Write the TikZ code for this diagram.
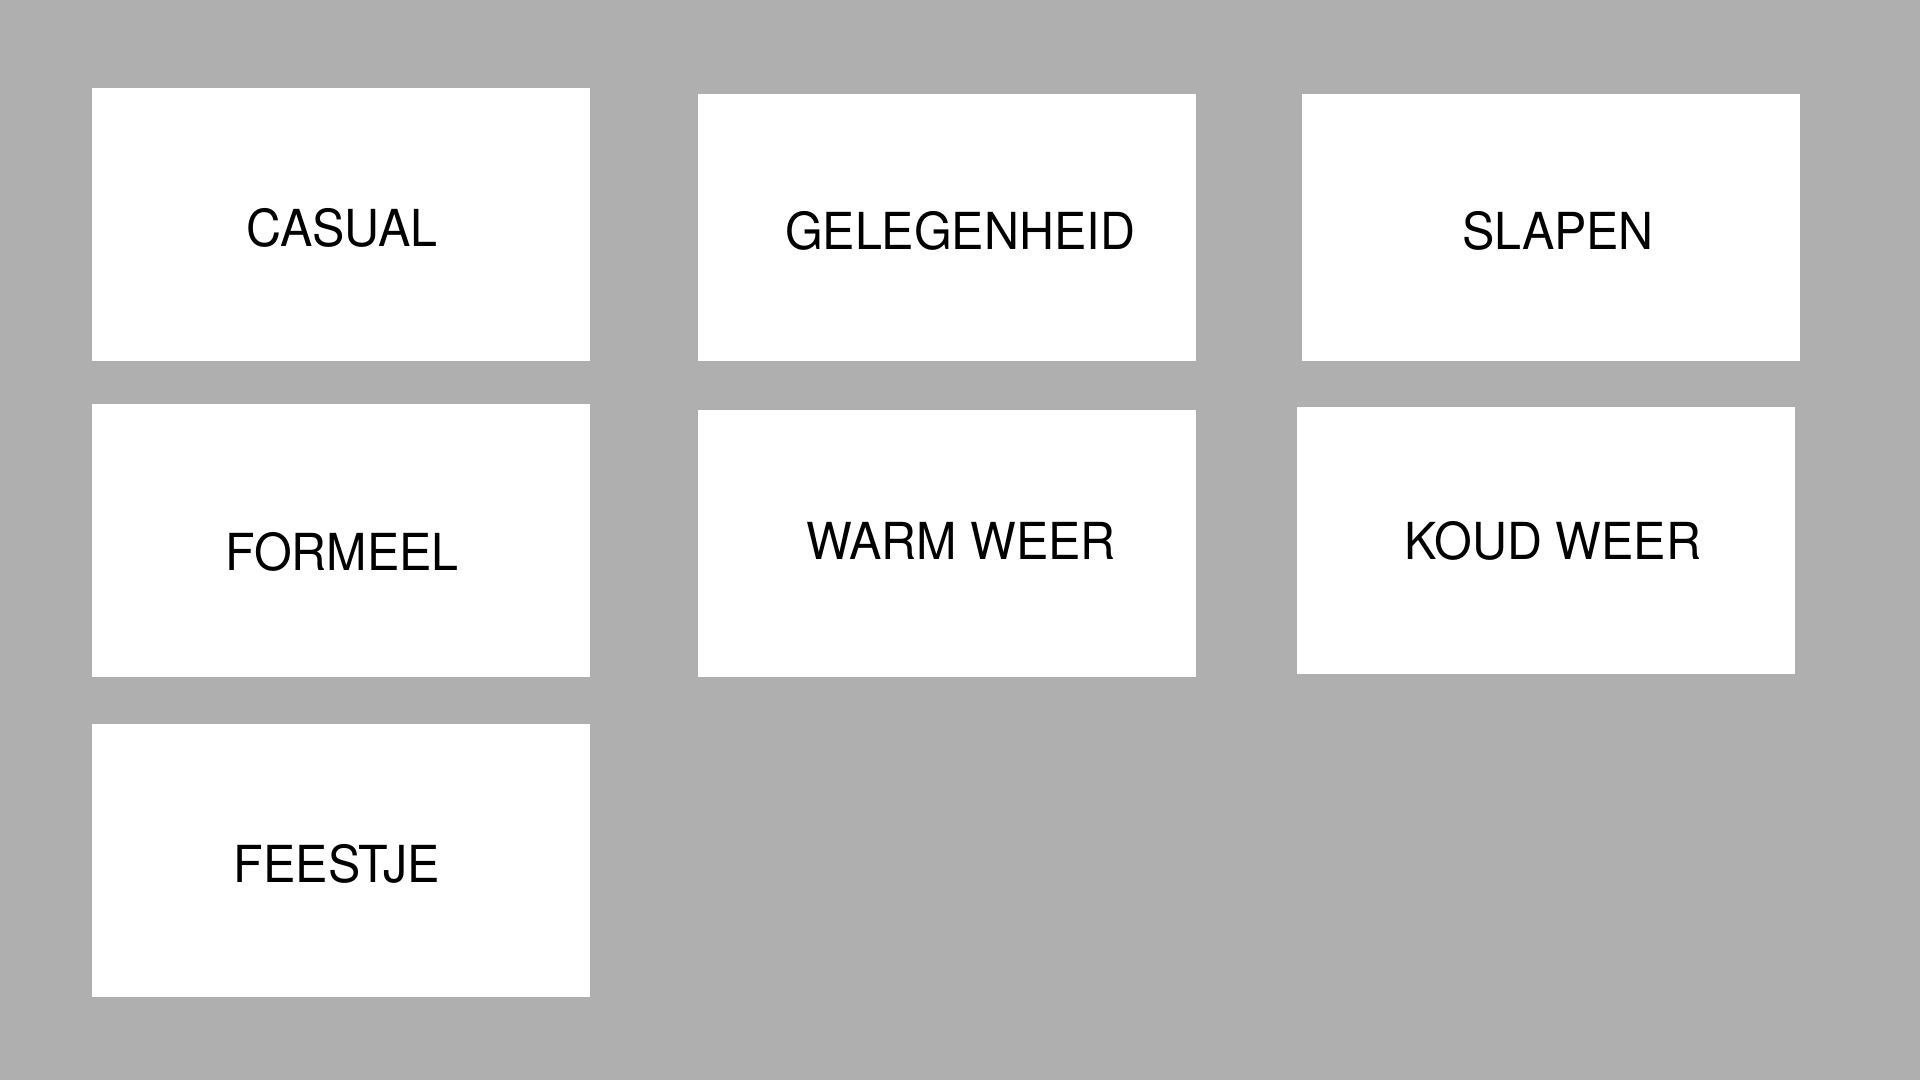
\documentclass[tikz,border=0pt]{standalone}
\usepackage{fontspec}
\setmainfont{TeX Gyre Heros}[FakeStretch=0.95]
\usepackage{tikz}

\definecolor{slidegray}{RGB}{175,175,175}
\tikzset{
  card/.style={fill=white, inner sep=0pt, minimum width=498pt},
  cardtext/.style={anchor=base, inner sep=0pt, font=\fontsize{51}{60}\selectfont}
}

\begin{document}
\begin{tikzpicture}[x=1pt,y=-1pt]
\fill[slidegray] (0,0) rectangle (1920,1080) ; % background
\node[card, minimum height=273pt] (casual) at (341,224.5) {} ; % card.0
\node[card, minimum height=267pt] (gelegenheid) at (947,227.5) {} ; % card.1
\node[card, minimum height=267pt] (slapen) at (1551,227.5) {} ; % card.2
\node[card, minimum height=273pt] (formeel) at (341,540.5) {} ; % card.3
\node[card, minimum height=267pt] (warm) at (947,543.5) {} ; % card.4
\node[card, minimum height=267pt] (koud) at (1546,540.5) {} ; % card.5
\node[card, minimum height=273pt] (feestje) at (341,860.5) {} ; % card.6
\node[cardtext] (casualtext) at (342,246.5) {CASUAL} ; % card.0
\node[cardtext] (gelegenheidtext) at (960,249.5) {GELEGENHEID} ; % card.1
\node[cardtext] (slapentext) at (1558,249.5) {SLAPEN} ; % card.2
\node[cardtext] (formeeltext) at (342,570.5) {FORMEEL} ; % card.3
\node[cardtext] (warmtext) at (961,559.5) {WARM WEER} ; % card.4
\node[cardtext] (koudtext) at (1553,559.5) {KOUD WEER} ; % card.5
\node[cardtext] (feestjetext) at (337,882.5) {FEESTJE} ; % card.6
\end{tikzpicture}
\end{document}
